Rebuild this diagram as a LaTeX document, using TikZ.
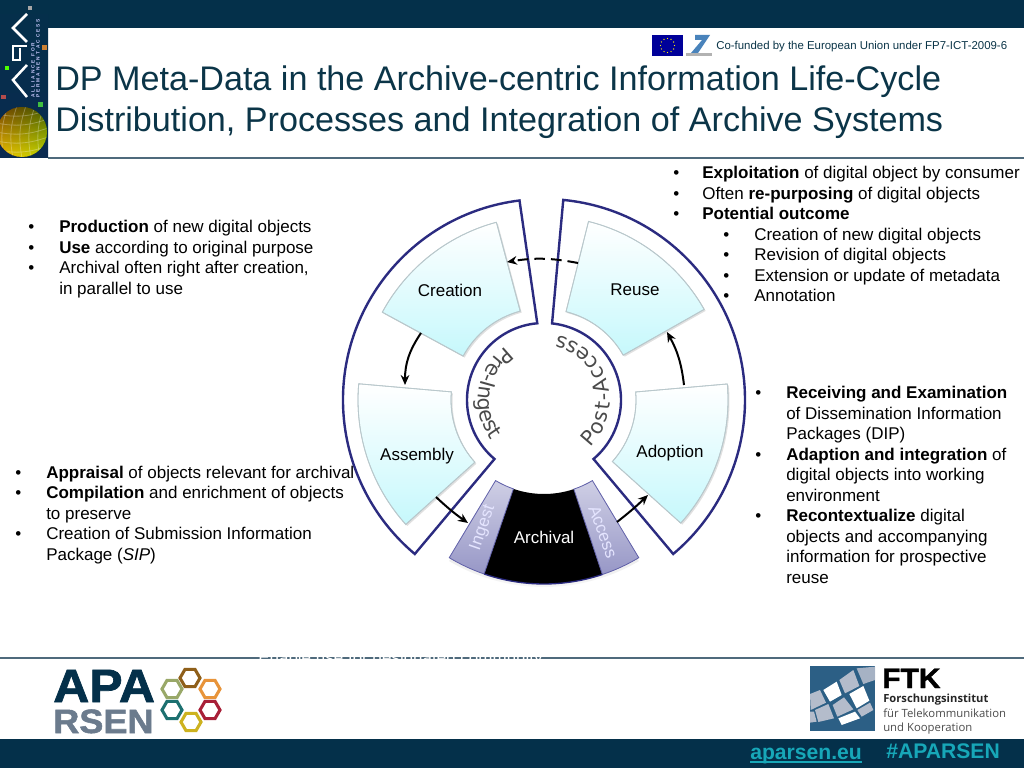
\documentclass[tikz,border=0pt]{standalone}
\usepackage{fontspec}
\usetikzlibrary{arrows.meta,decorations.text,shadings,calc}
\setmainfont{Liberation Sans}
\newfontfamily\wheelfont{DejaVu Sans}
\newfontfamily\ftkfont{Open Sans}
\newfontfamily\logofont[BoldFeatures={FakeBold=1.5,FakeStretch=1.07}]{Liberation Sans}
\newfontfamily\sidefont[LetterSpace=40]{Liberation Sans}
\definecolor{barc}{HTML}{04304A}
\definecolor{titlec}{HTML}{0B3548}
\definecolor{rulec}{HTML}{4F6A7C}
\definecolor{ringc}{HTML}{2B2B80}
\definecolor{cyanc}{HTML}{C6F8FC}
\definecolor{wedgeb}{HTML}{B9C8CC}
\definecolor{lilacb}{HTML}{5F5FA8}
\definecolor{wordc}{HTML}{4A4A4A}
\definecolor{linkc}{HTML}{17A7B8}
\definecolor{rsenc}{HTML}{6B7B8D}
\definecolor{hexa}{HTML}{8F5F1A}
\definecolor{hexb}{HTML}{E8943A}
\definecolor{hexc}{HTML}{A82038}
\definecolor{hexd}{HTML}{CDB21F}
\definecolor{hexe}{HTML}{1C7070}
\definecolor{hexf}{HTML}{99A868}
\definecolor{ftkc}{HTML}{2C5F85}
\definecolor{tilec}{HTML}{B4BCCB}
\definecolor{logoc}{HTML}{0A2A50}
\tikzset{
  x=.75pt,y=.75pt,
  txt/.style={anchor=base west,inner sep=0pt,font=\fontsize{12.75}{15}\selectfont,text=black},
  wedgelabel/.style={inner sep=0pt,font=\fontsize{12.75}{15}\selectfont,text=black},
  titletxt/.style={anchor=base west,inner sep=0pt,font=\fontsize{25.6}{30}\selectfont,text=titlec},
  ringshape/.style={draw=ringc,fill=white,line width=1.8pt,line join=miter},
  wedge/.style={draw=wedgeb,line width=.6pt,top color=white,bottom color=cyanc},
  wedgeshadow/.style={fill=black,fill opacity=.12},
  flow/.style={-{Stealth[length=7.5pt,width=6.5pt]},line width=1.5pt,draw=black},
  hexagon/.style={line width=2.3pt,line join=miter},
  tile/.style={fill=tilec},
  whitetile/.style={fill=white},
  sidetxt/.style={rotate=90,anchor=base west,inner sep=0pt,text=white!80!blue,font=\sidefont\fontsize{3.6}{4}\bfseries\selectfont},
  linktxt/.style={inner sep=0pt,anchor=base west,font=\fontsize{15.85}{18}\bfseries\selectfont,text=linkc}
}
\newcommand\wheelsector[4]{(#3:#1) arc[start angle=#3,end angle=#4,radius=#1] -- (#4:#2) arc[start angle=#4,end angle=#3,radius=#2] -- cycle}
\newcommand\textline[4]{\node[txt] (#1) at (#2,768-#3-0.7) {#4};}
\newcommand\bulletline[3]{\node[txt] (#1) at (#2,768-#3-0.7) {\textbullet};}
\begin{document}
\begin{tikzpicture}
\useasboundingbox (0,0) rectangle (1024,768);
\fill[white] (0,0) rectangle (1024,768);
% bars
\fill[barc] (0,740) rectangle (1024,768);
\fill[barc] (0,0) rectangle (1024,29);
\fill[white] (738,29) rectangle (988,30.5);
\draw[rulec,line width=1pt] (48,610) -- (1024,610);
\draw[rulec,line width=1pt] (0,110) -- (1024,110);
% left logo
\shade[top color=barc,bottom color=logoc] (0,610) rectangle (48,768);
\begin{scope}[white,line width=1.9pt,line join=miter]
\draw (27,754) -- (13,740) -- (27,726);
\draw (27,722) -- (13,722) -- (13,708) -- (20,708) -- (20,720);
\draw (27,703) -- (13,688) -- (27,671);
\end{scope}
\node[sidetxt] (apaline1) at (34.5,670) {ALLIANCE FOR};
\node[sidetxt] (apaline2) at (39.5,670) {PERMANENT ACCESS};
\fill[green!70!yellow] (5,698) rectangle (9,702);
\fill[orange!60!gray] (42,718) rectangle (47,723);
\fill[red!40!gray] (1,669) rectangle (6,673);
\fill[green!50!gray] (38,661) rectangle (43,666);
\fill[gray!70] (28,758) rectangle (32,762);
\begin{scope}
\clip (22,636) circle (25);
\shade[left color=red!80!black,right color=green!40!black] (-4,610) rectangle (48,662);
\shade[top color=olive!70!black,bottom color=yellow,fill opacity=.75] (-4,610) rectangle (48,662);
\foreach \k in {-18,-9,0,9,18}{\draw[white,opacity=.28,line width=.6pt] (22+\k,610) to[bend left=15] (26+\k,662);\draw[white,opacity=.28,line width=.6pt] (-4,636+\k) to[bend right=15] (48,640+\k);}
\end{scope}
% header
\node[titletxt] (title1) at (55,768-91) {DP Meta-Data in the Archive-centric Information Life-Cycle};
\node[titletxt] (title2) at (55,768-132) {Distribution, Processes and Integration of Archive Systems};
\node[inner sep=0pt,anchor=base west,font=\fontsize{8.57}{10}\selectfont,text=titlec] (cofund) at (716,768-50) {Co-funded by the European Union under FP7-ICT-2009-6};
\fill[blue!60!black] (652,712) rectangle (683,733);
\foreach \a in {0,30,...,330}{\fill[yellow] ($(667.5,722.5)+(\a:7)$) circle (.7);}
\fill[cyan!60!blue!70!gray] (695,733) -- (710,733) -- (698,715) -- (691,715) -- (702,728) -- (695,728) -- cycle;
\fill[gray!60] (686,712) rectangle (712,714.5);
% wheel
\begin{scope}[shift={(544,368)}]
\draw[ringshape] (97:201) arc[start angle=97,end angle=230,radius=201] -- (230:77) arc[start angle=230,end angle=95,radius=77] -- cycle;
\draw[ringshape] (84.5:201) arc[start angle=84.5,end angle=-50,radius=201] -- (-50:77) arc[start angle=-50,end angle=84,radius=77] -- cycle;
\foreach \ra/\rb/\aa/\ab in {184/92/105/151.5,186/93/175/222,184/91/29.5/76,184/92/5/-42}{
  \begin{scope}[shift={(1.5,-1.5)}]\fill[wedgeshadow] \wheelsector{\ra}{\rb}{\aa}{\ab};\end{scope}
  \shade[wedge] \wheelsector{\ra}{\rb}{\aa}{\ab};
  \draw[wedgeb,line width=.6pt] \wheelsector{\ra}{\rb}{\aa}{\ab};
}
\node[wedgelabel] (creation) at (-94,110) {Creation};
\node[wedgelabel] (reuse) at (91,110) {Reuse};
\node[wedgelabel] (assembly) at (-127,-56) {Assembly};
\node[wedgelabel] (adoption) at (126,-53.5) {Adoption};
% archival
\shade[top color=black!30,bottom color=black!5,opacity=.5] \wheelsector{187}{96}{239.5}{300.5};
\shade[top color=black,bottom color=black] \wheelsector{184}{94}{251}{288.5};
\shade[draw=lilacb,line width=.6pt,top color=lilacb!30!white,bottom color=lilacb!65!white] \wheelsector{184}{94}{239}{251};
\shade[draw=lilacb,line width=.6pt,top color=lilacb!30!white,bottom color=lilacb!65!white] \wheelsector{184}{94}{288.5}{301};
\draw[ringc,line width=1pt] (251:184) arc[start angle=251,end angle=288.5,radius=184];
\node[wedgelabel,text=white] (archival) at (0,-137) {Archival};
\node[wedgelabel,text=white!90!blue,rotate=71] (ingest) at (-61,-128) {Ingest};
\node[wedgelabel,text=white!90!blue,rotate=-70] (access) at (59,-132) {Access};
% arc words
\path[decorate,decoration={text along path,text align={fit to path},text={|\wheelfont\fontsize{15.5}{17}\selectfont\color{wordc}|Pre-Ingest}}] (126:66) arc[start angle=126,end angle=216,radius=66];
\path[decorate,decoration={text along path,text align={fit to path},text={|\wheelfont\fontsize{15.5}{17}\selectfont\color{wordc}|Post-Access}}] (-46:66) arc[start angle=-46,end angle=78,radius=66];
% connectors
\coordinate (creationout) at (-123,67);
\coordinate (assemblyin) at (-139,15);
\coordinate (assemblyout) at (-108,-97);
\coordinate (ingestin) at (-76,-123);
\coordinate (accessout) at (73,-122);
\coordinate (adoptionin) at (104,-95);
\coordinate (adoptionout) at (140,15);
\coordinate (reusein) at (123,68);
\coordinate (reuseout) at (34,137);
\coordinate (creationin) at (-37,138);
\draw[flow] (creationout) to[bend right=17] (assemblyin);
\draw[flow] (assemblyout) to[bend right=4] (ingestin);
\draw[flow] (accessout) to[bend right=3] (adoptionin);
\draw[flow] (adoptionout) to[bend right=11] (reusein);
\draw[flow,dash pattern=on 8pt off 4.5pt] (reuseout) to[bend right=10] (creationin);
\end{scope}
% top-left block
\bulletline{ba}{28}{232}\textline{ta}{59}{232}{\textbf{Production} of new digital objects}
\bulletline{bb}{28}{252.5}\textline{tb}{59}{252.5}{\textbf{Use} according to original purpose}
\bulletline{bc}{28}{273}\textline{tc}{59}{273}{Archival often right after creation,}
\textline{td}{59}{293.5}{in parallel to use}
% lower-left block
\bulletline{be}{15}{477.5}\textline{te}{46}{477.5}{\textbf{Appraisal} of objects relevant for archival}
\bulletline{bf}{15}{498}\textline{tf}{46}{498}{\textbf{Compilation} and enrichment of objects}
\textline{tg}{46}{518.5}{to preserve}
\bulletline{bh}{15}{539}\textline{th}{46}{539}{Creation of Submission Information}
\textline{ti}{46}{559.5}{Package (\textit{SIP})}
% top-right block
\bulletline{bj}{673}{178}\textline{tj}{702}{178}{\textbf{Exploitation} of digital object by consumer}
\bulletline{bk}{673}{198.5}\textline{tk}{702}{198.5}{Often \textbf{re-purposing} of digital objects}
\bulletline{bl}{673}{219}\textline{tl}{702}{219}{\textbf{Potential outcome}}
\bulletline{bm}{723}{239.5}\textline{tm}{754}{239.5}{Creation of new digital objects}
\bulletline{bn}{723}{260}\textline{tn}{754}{260}{Revision of digital objects}
\bulletline{bo}{723}{280.5}\textline{to}{754}{280.5}{Extension or update of metadata}
\bulletline{bp}{723}{301}\textline{tp}{754}{301}{Annotation}
% right block
\bulletline{bq}{755}{398}\textline{tq}{786}{398}{\textbf{Receiving and Examination}}
\textline{tr}{786}{418.5}{of Dissemination Information}
\textline{ts}{786}{439}{Packages (DIP)}
\bulletline{bt}{755}{459.5}\textline{tt}{786}{459.5}{\textbf{Adaption and integration} of}
\textline{tu}{786}{480}{digital objects into working}
\textline{tv}{786}{500.5}{environment}
\bulletline{bw}{755}{521}\textline{tw}{786}{521}{\textbf{Recontextualize} digital}
\textline{tx}{786}{541.5}{objects and accompanying}
\textline{ty}{786}{562}{information for prospective}
\textline{tz}{786}{582.5}{reuse}
% hidden line across the rule
\node[txt,text=white] (hiddenline) at (258,768-663) {Enable use for designated community};
% APARSEN logo
\node[inner sep=0pt,anchor=base west,font=\logofont\fontsize{35}{36}\bfseries\selectfont,text=barc] (apa) at (53,768-702) {APA};
\node[inner sep=0pt,anchor=base west,font=\logofont\fontsize{25.3}{28}\bfseries\selectfont,text=rsenc] (rsen) at (53,768-733) {RSEN};
\foreach \cx/\cy/\cc in {190/678/hexa,210/689/hexb,210/710/hexc,191/722/hexd,172/710/hexe,172/689/hexf}{
  \draw[hexagon,\cc] (\cx,768-\cy) +(0:10) -- +(60:10) -- +(120:10) -- +(180:10) -- +(240:10) -- +(300:10) -- cycle;
}
% FTK logo
\fill[ftkc] (810,37) rectangle (875,102);
\begin{scope}[shift={(800,108)},x=.25pt,y=-.25pt]
\fill[tile,opacity=.9] (170,25) -- (225,20) -- (225,60) -- (190,72) -- cycle;
\fill[tile] (118,60) -- (160,30) -- (178,78) -- (135,100) -- cycle;
\fill[whitetile] (70,90) -- (110,65) -- (125,105) -- (90,125) -- cycle;
\fill[whitetile] (148,102) -- (190,78) -- (208,122) -- (170,145) -- cycle;
\fill[tile] (98,135) -- (132,112) -- (160,148) -- (112,170) -- cycle;
\fill[tile] (45,150) -- (85,132) -- (102,175) -- (55,186) -- cycle;
\fill[tile] (30,102) -- (60,90) -- (78,128) -- (32,150) -- cycle;
\fill[whitetile] (115,175) -- (165,155) -- (180,175) -- (125,195) -- cycle;
\fill[tile] (172,150) -- (210,128) -- (220,150) -- (185,170) -- cycle;
\fill[tile] (30,155) -- (42,155) -- (50,185) -- (30,188) -- cycle;
\end{scope}
\node[inner sep=0pt,anchor=base west,font=\logofont\fontsize{21}{22}\bfseries\selectfont,text=black] (ftk) at (882,768-688) {FTK};
\node[inner sep=0pt,anchor=base west,font=\ftkfont\fontsize{8.4}{11}\bfseries\selectfont,text=black!85] (ftka) at (883,768-702) {Forschungsinstitut};
\node[inner sep=0pt,anchor=base west,font=\ftkfont\fontsize{8.5}{11}\selectfont,text=black!70] (ftkb) at (883,768-717) {für Telekommunikation};
\node[inner sep=0pt,anchor=base west,font=\ftkfont\fontsize{8.5}{11}\selectfont,text=black!70] (ftkc) at (883,768-731) {und Kooperation};
% footer links
\node[linktxt] (link) at (750,768-759) {aparsen.eu};
\draw[linkc,line width=1.1pt] ($(link.base west)+(0,-3)$) -- ($(link.base east)+(0,-3)$);
\node[linktxt] (tag) at (886,768-758) {\#APARSEN};
\end{tikzpicture}
\end{document}
